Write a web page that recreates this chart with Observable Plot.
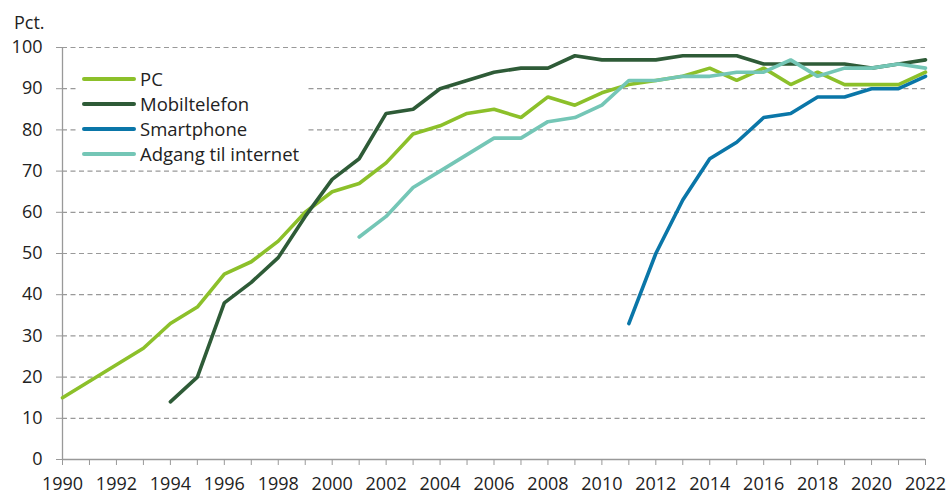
<!DOCTYPE html>
<html>
<head>
<meta charset="utf-8">
<script src="https://cdn.jsdelivr.net/npm/d3@7"></script>
<script src="https://cdn.jsdelivr.net/npm/@observablehq/plot@0.6"></script>
<style>
  html, body { margin: 0; padding: 0; background: #fff; }
  body { font-family: "Open Sans", sans-serif; color: #222; }
  #wrap { position: relative; width: 949px; height: 494px; }
  #unit { position: absolute; left: 14px; top: 10px; font-size: 18px; line-height: 24px; color: #222; }
  #legend { position: absolute; left: 76px; top: 64px; background: #fff; padding: 2px 6px 2px 6px; }
  .row { display: flex; align-items: center; height: 25px; font-size: 18.5px; color: #222; }
  .sw { width: 54px; height: 4px; border-radius: 2px; margin-right: 4px; }
</style>
</head>
<body>
<div id="wrap">
  <div id="chart"></div>
  <div id="unit">Pct.</div>
  <div id="legend"></div>
</div>
<script>
const years = d3.range(1990, 2023);
const seriesNames = ["PC", "Mobiltelefon", "Smartphone", "Adgang til internet"];
const seriesColors = ["#8cc02a", "#2e5b37", "#0a76a8", "#74c6b6"];

const pc = [15, 19, 23, 27, 33, 37, 45, 48, 53, 60, 65, 67, 72, 79, 81, 84, 85, 83, 88, 86, 89, 91, 92, 93, 95, 92, 95, 91, 94, 91, 91, 91, 94];
const mobiltelefon = [null, null, null, null, 14, 20, 38, 43, 49, 59, 68, 73, 84, 85, 90, 92, 94, 95, 95, 98, 97, 97, 97, 98, 98, 98, 96, 96, 96, 96, 95, 96, 97];
const smartphone = [null, null, null, null, null, null, null, null, null, null, null, null, null, null, null, null, null, null, null, null, null, 33, 50, 63, 73, 77, 83, 84, 88, 88, 90, 90, 93];
const internet = [null, null, null, null, null, null, null, null, null, null, null, 54, 59, 66, 70, 74, 78, 78, 82, 83, 86, 92, 92, 93, 93, 94, 94, 97, 93, 95, 95, 96, 95];
const yTicks = [0, 10, 20, 30, 40, 50, 60, 70, 80, 90, 100];
const xLabelYears = d3.range(1990, 2023, 2);

const seriesValues = [pc, mobiltelefon, smartphone, internet];
const data = [];
seriesNames.forEach((name, i) => {
  years.forEach((yr, j) => {
    const v = seriesValues[i][j];
    if (v != null) data.push({series: name, year: yr, value: v});
  });
});

const chart = Plot.plot({
  width: 949,
  height: 494,
  marginLeft: 62,
  marginRight: 24,
  marginTop: 47,
  marginBottom: 35,
  style: {fontFamily: "Open Sans, sans-serif", fontSize: "18px", color: "#222", background: "#fff", overflow: "visible"},
  x: {domain: [1990, 2022]},
  y: {domain: [0, 100]},
  color: {domain: seriesNames, range: seriesColors},
  marks: [
    Plot.gridY(yTicks.filter(d => d > 0), {stroke: "#999", strokeOpacity: 1, strokeWidth: 1.2, strokeDasharray: "5,3.5"}),
    Plot.ruleY([0], {stroke: "#999", strokeWidth: 1.3}),
    Plot.ruleX([1990], {stroke: "#999", strokeWidth: 1.3}),
    Plot.axisY({ticks: yTicks, tickSize: 6, tickPadding: 14, stroke: "#999", label: null, tickFormat: d => d}),
    Plot.axisX({ticks: years, tickSize: 6, tickPadding: 12, stroke: "#999", label: null, tickFormat: d => xLabelYears.includes(d) ? String(d) : ""}),
    Plot.line(data, {x: "year", y: "value", z: "series", stroke: "series", strokeWidth: 3.6, strokeLinejoin: "miter", strokeLinecap: "round"})
  ]
});
document.getElementById("chart").appendChild(chart);

const legend = document.getElementById("legend");
seriesNames.forEach((name, i) => {
  const row = document.createElement("div");
  row.className = "row";
  const sw = document.createElement("div");
  sw.className = "sw";
  sw.style.background = seriesColors[i];
  const label = document.createElement("span");
  label.textContent = name;
  row.appendChild(sw);
  row.appendChild(label);
  legend.appendChild(row);
});
</script>
</body>
</html>
